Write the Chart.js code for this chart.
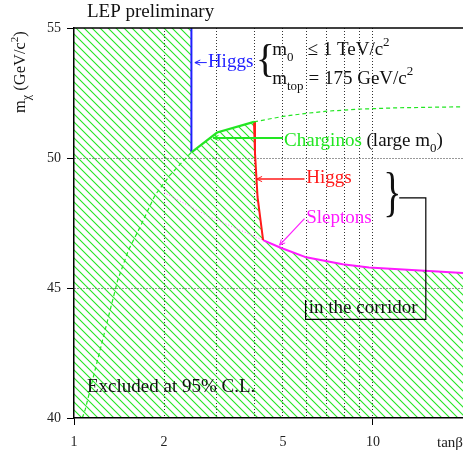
<!DOCTYPE html>
<html>
<head>
<meta charset="utf-8">
<title>LEP preliminary - neutralino mass limit</title>
<script src="https://cdn.jsdelivr.net/npm/chart.js@4.4.1/dist/chart.umd.min.js"></script>
<style>
  html, body { margin: 0; padding: 0; background: #fff; }
  canvas { display: block; }
</style>
</head>
<body>
<canvas id="limit-chart" width="463" height="457"></canvas>
<script>
// tan(beta) on x, m_chi (GeV/c^2) on y

// boundary of the hatched (excluded) region
const excludedTanb = [1, 2.47, 2.47, 3.01, 4.0, 4.03, 4.11, 4.29, 4.91, 5.98, 7.92, 9.7, 20];
const excludedMass = [55, 55, 50.22, 50.98, 51.39, 50.2, 48.5, 46.84, 46.55, 46.18, 45.91, 45.79, 45.58];

// Higgs limit (blue, low tan beta)
const higgsLowTanb = [2.47, 2.47];
const higgsLowMass = [55, 50.22];

// chargino limit
const charginoTanb = [2.47, 3.01, 4.0];
const charginoMass = [50.22, 50.98, 51.39];

// chargino limit for large m0 (dashed)
const charginoLargeTanb = [4.0, 5.0, 6.0, 7.0, 9.0, 12, 20];
const charginoLargeMass = [51.39, 51.6, 51.72, 51.8, 51.88, 51.93, 51.97];

// chargino limit continued below the Higgs line (dashed)
const charginoLowTanb = [1.066, 1.09, 1.193, 1.288, 1.40, 1.52, 1.664, 1.866, 2.094, 2.47];
const charginoLowMass = [40.0, 40.32, 42.13, 43.65, 45.3, 46.45, 47.35, 48.57, 49.34, 50.22];

// Higgs limit (red, around tan beta = 4)
const higgsHighTanb = [4.0, 4.03, 4.11, 4.29];
const higgsHighMass = [51.39, 50.2, 48.5, 46.84];

// slepton limit
const sleptonTanb = [4.29, 4.91, 5.98, 7.92, 9.7, 20];
const sleptonMass = [46.84, 46.55, 46.18, 45.91, 45.79, 45.58];

// slepton limit hidden by the Higgs one (dotted)
const sleptonLowTanb = [2.0, 2.84, 4.29];
const sleptonLowMass = [48.67, 47.74, 46.84];

// axes
const xGridTanb = [1, 2, 3, 4, 5, 6, 7, 8, 9, 10];
const xLabelTanb = [1, 2, 5, 10];
const yTicksMass = [40, 45, 50, 55];

const FONT = '"Liberation Serif", "Times New Roman", serif';
const GREEN = '#22e622';
const BLUE = '#1f1fff';
const RED = '#ff1a1a';
const MAGENTA = '#ff1aff';
const GRID = '#333';

function pts(xs, ys) {
    return xs.map((x, i) => ({ x: x, y: ys[i] }));
}

function makeHatch(color) {
    const size = 8;
    const tile = document.createElement('canvas');
    tile.width = size;
    tile.height = size;
    const c = tile.getContext('2d');
    c.strokeStyle = color;
    c.lineWidth = 1.1;
    for (let k = -1; k <= 1; k++) {
        c.beginPath();
        c.moveTo(-1, -1 + k * size);
        c.lineTo(size + 1, size + 1 + k * size);
        c.stroke();
    }
    return c.createPattern(tile, 'repeat');
}

// text made of pieces (sub/superscripts, colours)
function drawRich(ctx, x, y, parts) {
    for (const p of parts) {
        ctx.font = (p.size || 19) + 'px ' + FONT;
        ctx.fillStyle = p.color || '#111';
        ctx.fillText(p.text, x, y + (p.dy || 0));
        x += ctx.measureText(p.text).width;
    }
    return x;
}

function arrow(ctx, from, to, color, width) {
    const a = Math.atan2(to[1] - from[1], to[0] - from[0]);
    const h = 6;
    ctx.strokeStyle = color;
    ctx.lineWidth = width;
    ctx.beginPath();
    ctx.moveTo(from[0], from[1]);
    ctx.lineTo(to[0], to[1]);
    ctx.stroke();
    ctx.lineWidth = 1;
    ctx.beginPath();
    ctx.moveTo(to[0] - h * Math.cos(a - 0.45), to[1] - h * Math.sin(a - 0.45));
    ctx.lineTo(to[0], to[1]);
    ctx.lineTo(to[0] - h * Math.cos(a + 0.45), to[1] - h * Math.sin(a + 0.45));
    ctx.stroke();
}

const annotations = {
    id: 'annotations',
    afterDatasetsDraw(chart) {
        const { ctx, chartArea: a, scales: { x, y } } = chart;
        const P = (tb, m) => [x.getPixelForValue(tb), y.getPixelForValue(m)];
        let q;

        ctx.save();
        ctx.textAlign = 'left';
        ctx.textBaseline = 'alphabetic';

        // top frame
        ctx.strokeStyle = '#000';
        ctx.lineWidth = 1.5;
        ctx.beginPath();
        ctx.moveTo(a.left, a.top);
        ctx.lineTo(a.right, a.top);
        ctx.stroke();

        drawRich(ctx, 87, 17, [{ text: 'LEP preliminary' }]);

        // y axis title
        ctx.save();
        ctx.translate(25, 113);
        ctx.rotate(-Math.PI / 2);
        drawRich(ctx, 0, 0, [
            { text: 'm', size: 16.5 },
            { text: 'χ', size: 12, dy: 5 },
            { text: ' (GeV/c', size: 16.5 },
            { text: '2', size: 11, dy: -7 },
            { text: ')', size: 16.5 }
        ]);
        ctx.restore();

        // Higgs (blue)
        arrow(ctx, P(2.78, 53.67), P(2.537, 53.67), BLUE, 1);
        q = P(2.804, 53.49);
        drawRich(ctx, q[0], q[1], [{ text: 'Higgs', color: BLUE }]);

        // { m0 <= 1 TeV/c2, mtop = 175 GeV/c2
        q = P(4.053, 53.30);
        drawRich(ctx, q[0], q[1], [{ text: '{', size: 40 }]);
        q = P(4.6, 53.95);
        drawRich(ctx, q[0], q[1], [{ text: 'm' }, { text: '0', size: 13, dy: 6 }]);
        q = P(6.04, 53.95);
        drawRich(ctx, q[0], q[1], [{ text: '≤ 1 TeV/c' }, { text: '2', size: 13, dy: -9 }]);
        q = P(4.6, 52.86);
        drawRich(ctx, q[0], q[1], [{ text: 'm' }, { text: 'top', size: 13, dy: 6 }]);
        q = P(6.085, 52.86);
        drawRich(ctx, q[0], q[1], [{ text: '= 175 GeV/c' }, { text: '2', size: 13, dy: -9 }]);

        // Charginos
        arrow(ctx, P(5.0, 50.77), P(2.92, 50.77), GREEN, 2);
        q = P(5.04, 50.47);
        drawRich(ctx, q[0], q[1], [
            { text: 'Charginos', color: GREEN },
            { text: ' (large m' },
            { text: '0', size: 13, dy: 6 },
            { text: ')' }
        ]);

        // Higgs (red)
        arrow(ctx, P(5.9, 49.19), P(4.083, 49.19), RED, 1.5);
        q = P(5.98, 49.02);
        drawRich(ctx, q[0], q[1], [{ text: 'Higgs', color: RED }]);

        // Sleptons
        arrow(ctx, P(5.9, 47.67), P(4.87, 46.65), MAGENTA, 1.2);
        q = P(5.98, 47.51);
        drawRich(ctx, q[0], q[1], [{ text: 'Sleptons', color: MAGENTA }]);

        // } ... in the corridor
        q = P(10.82, 47.99);
        ctx.save();
        ctx.translate(q[0], q[1]);
        ctx.scale(0.7, 1);
        drawRich(ctx, 0, 0, [{ text: '}', size: 54 }]);
        ctx.restore();

        const box = [P(12.24, 48.47), P(15.02, 48.47), P(15.02, 43.79), P(5.95, 43.79), P(5.95, 44.54)];
        ctx.strokeStyle = '#000';
        ctx.lineWidth = 1.2;
        ctx.beginPath();
        box.forEach((p, i) => (i ? ctx.lineTo(p[0], p[1]) : ctx.moveTo(p[0], p[1])));
        ctx.stroke();
        q = P(6.10, 44.02);
        drawRich(ctx, q[0], q[1], [{ text: 'in the corridor' }]);

        q = P(1.105, 41.01);
        drawRich(ctx, q[0], q[1], [{ text: 'Excluded at 95% C.L.' }]);

        ctx.restore();
    }
};

function lineSet(xs, ys, color, width, dash) {
    return {
        data: pts(xs, ys),
        borderColor: color,
        borderWidth: width,
        borderDash: dash || [],
        pointRadius: 0,
        fill: false,
        tension: 0,
        order: 1
    };
}

document.addEventListener('DOMContentLoaded', function () {
    const canvas = document.getElementById('limit-chart');

    new Chart(canvas, {
        type: 'line',
        data: {
            datasets: [
                {
                    data: pts(excludedTanb, excludedMass),
                    borderColor: 'transparent',
                    borderWidth: 0,
                    backgroundColor: makeHatch(GREEN),
                    fill: 'start',
                    pointRadius: 0,
                    tension: 0,
                    order: 10
                },
                lineSet(charginoLowTanb, charginoLowMass, GREEN, 1.2, [4, 3]),
                lineSet(sleptonLowTanb, sleptonLowMass, '#ff66ff', 1, [1, 2]),
                lineSet(charginoLargeTanb, charginoLargeMass, GREEN, 1.2, [4, 3]),
                lineSet(charginoTanb, charginoMass, GREEN, 2.2),
                lineSet(higgsLowTanb, higgsLowMass, BLUE, 2),
                lineSet(higgsHighTanb, higgsHighMass, RED, 2),
                lineSet(sleptonTanb, sleptonMass, MAGENTA, 2)
            ]
        },
        options: {
            responsive: false,
            animation: false,
            devicePixelRatio: 1,
            layout: { padding: { top: 28, right: 0, bottom: 0, left: 0 } },
            plugins: {
                legend: { display: false },
                tooltip: { enabled: false }
            },
            scales: {
                x: {
                    type: 'logarithmic',
                    min: 1,
                    max: 20,
                    afterFit: function (scale) { scale.height = 39; },
                    afterBuildTicks: function (scale) {
                        scale.ticks = xGridTanb.map(v => ({ value: v }));
                    },
                    ticks: {
                        autoSkip: false,
                        maxRotation: 0,
                        padding: 9,
                        color: '#222',
                        font: { family: FONT, size: 14 },
                        callback: function (value) {
                            return xLabelTanb.includes(value) ? String(value) : '';
                        }
                    },
                    grid: {
                        color: ctx => (ctx.tick && ctx.tick.value !== 1 ? GRID : 'transparent'),
                        lineWidth: 1,
                        tickLength: 7,
                        tickColor: ctx => (ctx.tick && (ctx.tick.value === 1 || ctx.tick.value === 10) ? '#000' : 'transparent')
                    },
                    border: { color: '#000', width: 1.5, dash: [1, 2], z: 1 },
                    title: {
                        display: true,
                        text: 'tanβ',
                        align: 'end',
                        color: '#222',
                        font: { family: FONT, size: 15 },
                        padding: { top: 0, bottom: 5 }
                    }
                },
                y: {
                    min: 40,
                    max: 55,
                    afterFit: function (scale) { scale.width = 74; },
                    afterBuildTicks: function (scale) {
                        scale.ticks = yTicksMass.map(v => ({ value: v }));
                    },
                    ticks: {
                        padding: 6,
                        color: '#222',
                        font: { family: FONT, size: 14 }
                    },
                    grid: {
                        color: ctx => (ctx.tick && (ctx.tick.value === 45 || ctx.tick.value === 50) ? GRID : 'transparent'),
                        lineWidth: 1,
                        tickLength: 7,
                        tickColor: '#000'
                    },
                    border: { color: '#000', width: 1.5, dash: [1, 2], z: 1 }
                }
            }
        },
        plugins: [annotations]
    });
});
</script>
</body>
</html>
